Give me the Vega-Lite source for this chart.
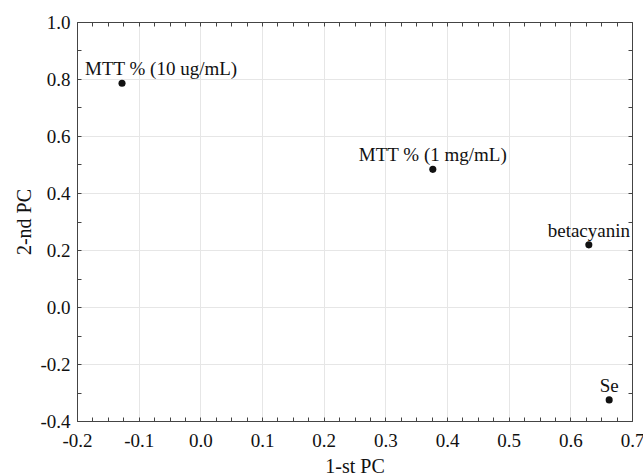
{
  "$schema": "https://vega.github.io/schema/vega-lite/v6.json",
  "width": 555,
  "height": 399,
  "autosize": {"type": "none"},
  "padding": {"left": 77, "top": 22, "right": 11, "bottom": 54},
  "background": "white",
  "config": {
    "view": {"stroke": "#444", "strokeWidth": 1},
    "font": "'Liberation Serif', 'DejaVu Serif', serif",
    "axis": {
      "labelFont": "'Liberation Serif', 'DejaVu Serif', serif",
      "titleFont": "'Liberation Serif', 'DejaVu Serif', serif",
      "labelFontSize": 19,
      "titleFontSize": 20,
      "titleFontWeight": "normal",
      "labelColor": "#111",
      "titleColor": "#111",
      "domainColor": "#444",
      "tickColor": "#444",
      "tickSize": -4,
      "gridColor": "#e6e6e6",
      "gridWidth": 1
    }
  },
  "data": {
    "values": [
      {"pc1": -0.127, "pc2": 0.785, "label": "MTT % (10 ug/mL)"},
      {"pc1": 0.377, "pc2": 0.483, "label": "MTT % (1 mg/mL)"},
      {"pc1": 0.630, "pc2": 0.218, "label": "betacyanin"},
      {"pc1": 0.663, "pc2": -0.326, "label": "Se"}
    ]
  },
  "resolve": {"axis": {"x": "independent", "y": "independent"}},
  "layer": [
    {
      "mark": {"type": "point", "filled": true, "color": "#111", "opacity": 1, "size": 50},
      "encoding": {
        "x": {
          "field": "pc1", "type": "quantitative",
          "scale": {"domain": [-0.2, 0.7], "nice": false, "zero": false},
          "axis": {
            "orient": "bottom",
            "title": "1-st PC",
            "values": [-0.2,-0.175,-0.15,-0.125,-0.1,-0.075,-0.05,-0.025,0,0.025,0.05,0.075,0.1,0.125,0.15,0.175,0.2,0.225,0.25,0.275,0.3,0.325,0.35,0.375,0.4,0.425,0.45,0.475,0.5,0.525,0.55,0.575,0.6,0.625,0.65,0.675,0.7],
            "labelExpr": "abs(datum.value*10 - round(datum.value*10)) < 0.001 ? replace(format(datum.value, '.1f'), '\u2212', '-') : ''",
            "labelPadding": 14,
            "labelFlush": false,
            "labelOverlap": false,
            "grid": true,
            "gridOpacity": {"condition": {"test": "abs(datum.value*10 - round(datum.value*10)) < 0.001", "value": 1}, "value": 0},
            "titlePadding": 6
          }
        },
        "y": {
          "field": "pc2", "type": "quantitative",
          "scale": {"domain": [-0.4, 1.0], "nice": false, "zero": false},
          "axis": {
            "orient": "left",
            "title": "2-nd PC",
            "values": [-0.4,-0.3,-0.2,-0.1,0,0.1,0.2,0.3,0.4,0.5,0.6,0.7,0.8,0.9,1.0],
            "labelExpr": "abs(datum.value*5 - round(datum.value*5)) < 0.001 ? replace(format(datum.value, '.1f'), '\u2212', '-') : ''",
            "labelPadding": 11,
            "labelFlush": false,
            "labelOverlap": false,
            "grid": true,
            "gridOpacity": {"condition": {"test": "abs(datum.value*5 - round(datum.value*5)) < 0.001", "value": 1}, "value": 0},
            "titlePadding": 5
          }
        }
      }
    },
    {
      "transform": [{"filter": "datum.label != 'MTT % (10 ug/mL)'"}],
      "mark": {"type": "text", "font": "'Liberation Serif', 'DejaVu Serif', serif", "fontSize": 19, "color": "#111", "align": "center", "baseline": "alphabetic", "dy": -8},
      "encoding": {
        "x": {"field": "pc1", "type": "quantitative", "axis": null},
        "y": {"field": "pc2", "type": "quantitative", "axis": null},
        "text": {"field": "label"}
      }
    },
    {
      "transform": [{"filter": "datum.label == 'MTT % (10 ug/mL)'"}],
      "mark": {"type": "text", "font": "'Liberation Serif', 'DejaVu Serif', serif", "fontSize": 19, "color": "#111", "align": "left", "baseline": "alphabetic", "dx": -37, "dy": -8},
      "encoding": {
        "x": {"field": "pc1", "type": "quantitative", "axis": null},
        "y": {"field": "pc2", "type": "quantitative", "axis": null},
        "text": {"field": "label"}
      }
    },
    {
      "mark": {"type": "point", "opacity": 0},
      "encoding": {
        "x": {
          "field": "pc1", "type": "quantitative",
          "axis": {
            "orient": "top", "title": null, "labels": false, "grid": false,
            "values": [-0.2,-0.175,-0.15,-0.125,-0.1,-0.075,-0.05,-0.025,0,0.025,0.05,0.075,0.1,0.125,0.15,0.175,0.2,0.225,0.25,0.275,0.3,0.325,0.35,0.375,0.4,0.425,0.45,0.475,0.5,0.525,0.55,0.575,0.6,0.625,0.65,0.675,0.7]
          }
        },
        "y": {
          "field": "pc2", "type": "quantitative",
          "axis": {
            "orient": "right", "title": null, "labels": false, "grid": false,
            "values": [-0.4,-0.3,-0.2,-0.1,0,0.1,0.2,0.3,0.4,0.5,0.6,0.7,0.8,0.9,1.0]
          }
        }
      }
    }
  ]
}
